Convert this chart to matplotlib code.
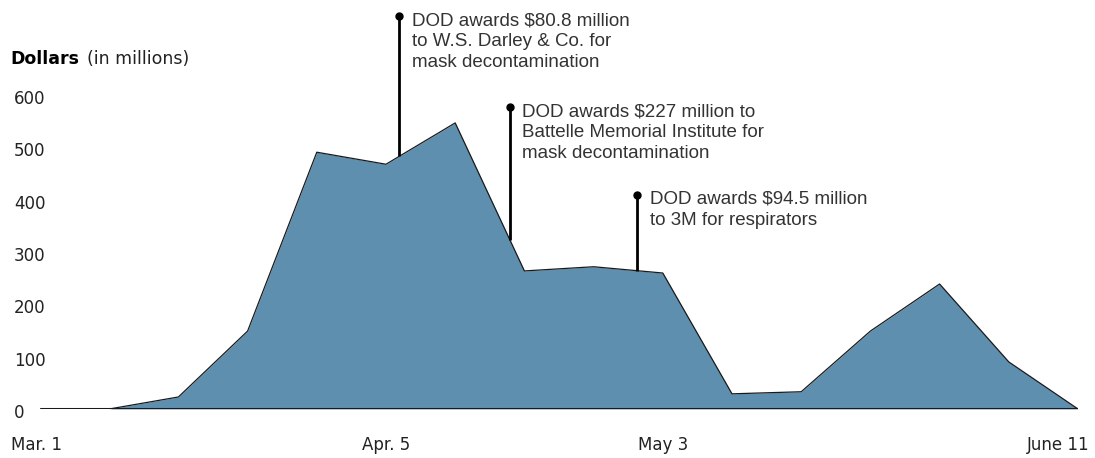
"""Area chart: DOD contract awards by week, with award annotations."""

import matplotlib.pyplot as plt
import matplotlib.transforms as mtransforms
import numpy as np

plt.rcParams["font.family"] = ["Liberation Sans", "DejaVu Sans"]

# weekly totals, millions of dollars
weeks = list(range(16))
dollars = [0, 0, 23, 149, 491, 468, 547, 264, 272, 260, 29, 33, 149, 239, 90, 0]

x_ticks = [0, 5, 9, 15]
x_labels = ["Mar. 1", "Apr. 5", "May 3", "June 11"]
y_ticks = [0, 100, 200, 300, 400, 500, 600]

# annotations: x position (week), top of leader line (millions), text
note_x = [5.19, 6.79, 8.63]
note_top = [751, 577, 409]
note_text = [
    "DOD awards $80.8 million\nto W.S. Darley & Co. for\nmask decontamination",
    "DOD awards $227 million to\nBattelle Memorial Institute for\nmask decontamination",
    "DOD awards $94.5 million\nto 3M for respirators",
]

W, H = 1095, 458
fig = plt.figure(figsize=(W / 100, H / 100), dpi=100)
ax = fig.add_axes([40 / W, 1 - 409 / H, 1038 / W, 409 / H])
ax.set_xlim(0, 15)
ax.set_ylim(0, 409 / 0.523)
ax.axis("off")

ax.fill_between(weeks, dollars, 0, color="#5f8fae", linewidth=0)
ax.plot(weeks, dollars, color="#1a1a1a", linewidth=0.9)
ax.plot([0, 15], [0, 0], color="#1a1a1a", linewidth=2.2, solid_capstyle="butt")

for x, top, txt in zip(note_x, note_top, note_text):
    bottom = np.interp(x, weeks, dollars)
    ax.plot([x, x], [bottom, top], color="black", linewidth=2, clip_on=False,
            solid_capstyle="butt")
    ax.plot(x, top, "o", color="black", markersize=5, clip_on=False)
    ax.annotate(txt, (x, top), xytext=(9, 3), textcoords="offset points",
                ha="left", va="top", fontsize=13.5, color="#333333",
                linespacing=1.32, annotation_clip=False)

axis_font = ["DejaVu Sans"]

# y tick labels, left-aligned near the figure edge, nudged down a little
trans_y = mtransforms.blended_transform_factory(fig.transFigure, ax.transData)
trans_y = trans_y + mtransforms.ScaledTranslation(0, -4 / 100, fig.dpi_scale_trans)
for v in y_ticks:
    ax.text(14 / W, v, str(v), transform=trans_y, ha="left", va="center",
            fontsize=12, color="#222222", family=axis_font)

title = fig.text(10 / W, 1 - 59 / H, "Dollars", fontsize=12.5, fontweight="bold",
                 color="black", va="center", ha="left", family=axis_font)
fig.canvas.draw()
bb = title.get_window_extent()
fig.text((bb.x1 + 8) / W, 1 - 59 / H, "(in millions)", fontsize=12.5,
         color="#222222", va="center", ha="left", family=axis_font)

# x labels
trans_x = mtransforms.blended_transform_factory(ax.transData, fig.transFigure)
aligns = ["center", "center", "center", "right"]
offsets = [-0.05, 0, 0, 0.17]
for x, lab, ha, off in zip(x_ticks, x_labels, aligns, offsets):
    ax.text(x + off, 1 - 445 / H, lab, transform=trans_x, ha=ha, va="center",
            fontsize=12, color="#222222", family=axis_font)

fig.savefig("out.png", dpi=100)
